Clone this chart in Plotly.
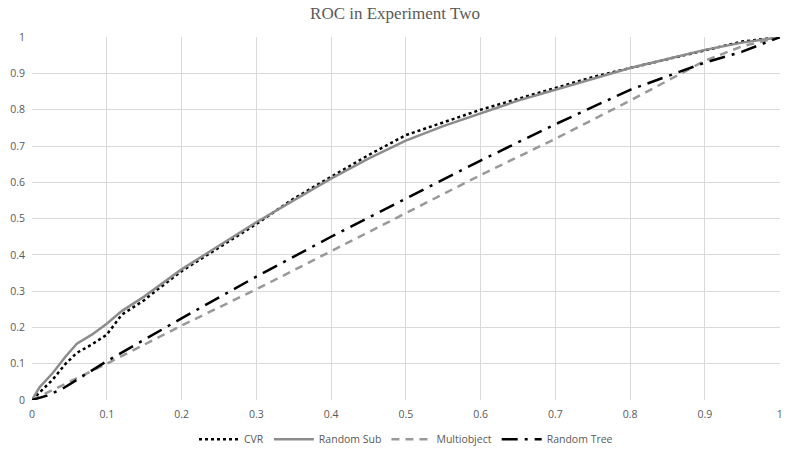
import plotly.graph_objects as go

# Valores (taxa de falsos positivos x verdadeiros positivos)
cvr_x = [0, 0.01, 0.028, 0.045, 0.06, 0.08, 0.1, 0.12, 0.15, 0.165, 0.2, 0.25, 0.3, 0.35, 0.4,
         0.45, 0.5, 0.55, 0.6, 0.65, 0.7, 0.75, 0.8, 0.85, 0.9, 0.95, 1.0]
cvr_y = [0, 0.02, 0.057, 0.1, 0.13, 0.153, 0.18, 0.235, 0.275, 0.30, 0.355, 0.42, 0.485, 0.555, 0.615,
         0.675, 0.73, 0.765, 0.80, 0.83, 0.86, 0.89, 0.915, 0.94, 0.965, 0.988, 1.0]

sub_x = [0, 0.01, 0.028, 0.045, 0.06, 0.08, 0.1, 0.12, 0.15, 0.17, 0.2, 0.25, 0.3, 0.35, 0.4,
         0.45, 0.5, 0.55, 0.6, 0.65, 0.7, 0.75, 0.8, 0.85, 0.9, 0.95, 1.0]
sub_y = [0, 0.035, 0.075, 0.12, 0.155, 0.18, 0.21, 0.245, 0.285, 0.315, 0.36, 0.425, 0.49, 0.55, 0.61,
         0.665, 0.715, 0.755, 0.79, 0.825, 0.855, 0.885, 0.915, 0.94, 0.965, 0.985, 1.0]

multi_x = [0, 0.05, 0.1, 0.2, 0.3, 0.4, 0.5, 0.6, 0.7, 0.8, 0.9, 0.95, 1.0]
multi_y = [0, 0.05, 0.1, 0.205, 0.305, 0.41, 0.515, 0.62, 0.72, 0.825, 0.935, 0.975, 1.0]

tree_x = [0, 0.02, 0.04, 0.1, 0.2, 0.3, 0.4, 0.5, 0.6, 0.7, 0.8, 0.9, 0.95, 1.0]
tree_y = [0, 0.012, 0.03, 0.107, 0.225, 0.34, 0.45, 0.555, 0.66, 0.76, 0.855, 0.93, 0.96, 1.0]

marcas = [0, 0.1, 0.2, 0.3, 0.4, 0.5, 0.6, 0.7, 0.8, 0.9, 1]
rotulos = ['0', '0.1', '0.2', '0.3', '0.4', '0.5', '0.6', '0.7', '0.8', '0.9', '1']

fig = go.Figure()
fig.add_trace(go.Scatter(x=cvr_x, y=cvr_y, mode='lines', name='CVR',
                         line=dict(color='black', width=2.5, dash='dot')))
fig.add_trace(go.Scatter(x=sub_x, y=sub_y, mode='lines', name='Random Sub',
                         line=dict(color='#8c8c8c', width=2.5)))
fig.add_trace(go.Scatter(x=multi_x, y=multi_y, mode='lines', name='Multiobject',
                         line=dict(color='#999999', width=2.5, dash='8px,6px')))
fig.add_trace(go.Scatter(x=tree_x, y=tree_y, mode='lines', name='Random Tree',
                         line=dict(color='black', width=2.5, dash='16px,7px,3px,7px')))

eixo = dict(range=[0, 1.0005], tickvals=marcas, ticktext=rotulos, showgrid=True,
            gridcolor='#d9d9d9', gridwidth=1, zeroline=False, showline=False, ticks='',
            automargin=False, ticklabelstandoff=6,
            tickfont=dict(family='Open Sans', size=10.5, color='#595959'))

fig.update_layout(
    width=790, height=452,
    title=dict(text='ROC in Experiment Two', x=0.5, xanchor='center', y=0.985,
               font=dict(family='Liberation Serif', size=17, color='#595959')),
    paper_bgcolor='white', plot_bgcolor='white',
    margin=dict(l=32, r=10, t=37, b=52, autoexpand=False),
    xaxis=dict(eixo),
    yaxis=dict(eixo),
    showlegend=True,
    legend=dict(orientation='h', x=0.5, xanchor='center', y=-0.068, yanchor='top',
                font=dict(family='Open Sans', size=10.5, color='#595959'), itemwidth=40),
)

# tira a margem padrão do body para a figura ocupar a janela inteira
fig.write_html("out.html", config={'displayModeBar': False},
               post_script="document.body.style.margin='0';")
